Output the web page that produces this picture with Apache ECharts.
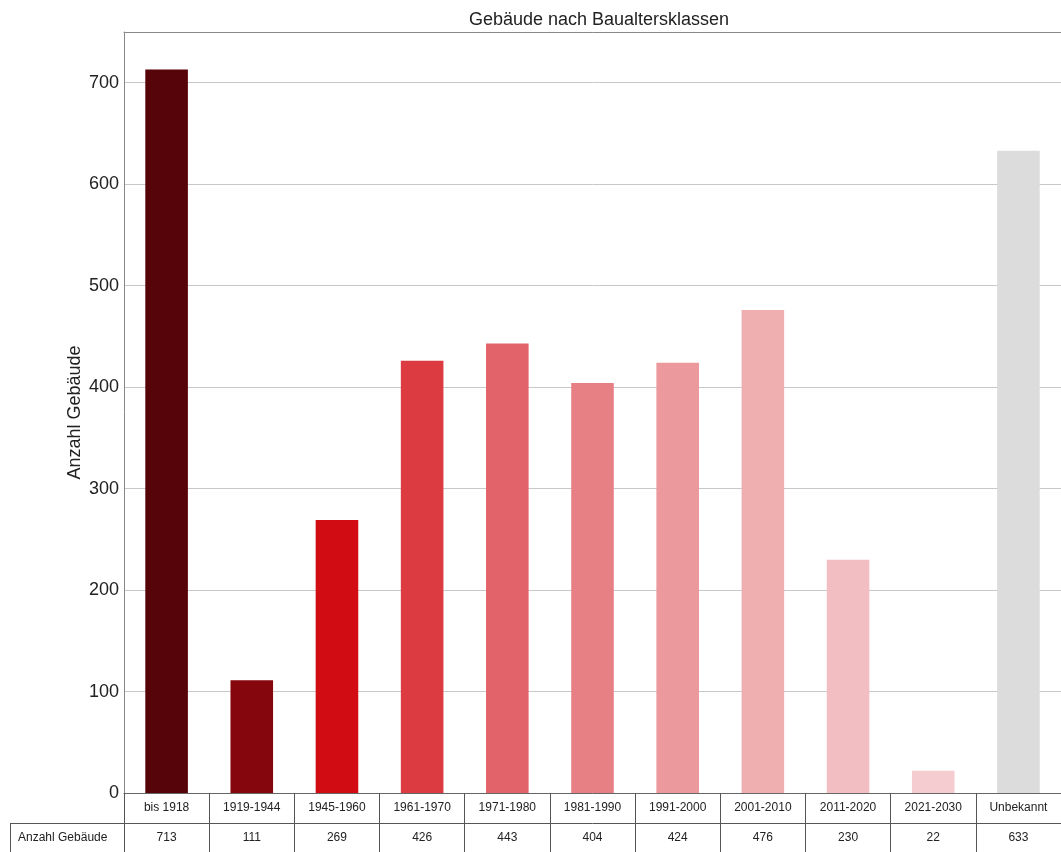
<!DOCTYPE html>
<html>
<head>
<meta charset="utf-8">
<title>Gebäude nach Baualtersklassen</title>
<script src="https://cdn.jsdelivr.net/npm/echarts@6/dist/echarts.min.js"></script>
<style>
    html, body { margin: 0; padding: 0; background: #fff; }
    #chart { width: 1061px; height: 852px; }
</style>
</head>
<body>
<div id="chart"></div>
<script>
// Baualtersklassen (Kategorien)
var categories = ['bis 1918', '1919-1944', '1945-1960', '1961-1970', '1971-1980', '1981-1990',
    '1991-2000', '2001-2010', '2011-2020', '2021-2030', 'Unbekannt'];
// Anzahl Gebäude je Klasse
var counts = [713, 111, 269, 426, 443, 404, 424, 476, 230, 22, 633];
// Farbe je Balken
var barColors = ['#560309', '#85060c', '#d10c13', '#dc3b41', '#e2636a', '#e78084',
    '#eb999c', '#efafb1', '#f3bec1', '#f5cccf', '#dcdcdc'];
var yTicks = [0, 100, 200, 300, 400, 500, 600, 700];

var chart = echarts.init(document.getElementById('chart'));

var font = 'Liberation Sans, Arial, sans-serif';

var option = {
    backgroundColor: '#fff',
    animation: false,
    title: {
        text: 'Gebäude nach Baualtersklassen',
        left: 594,
        textAlign: 'center',
        top: 6,
        textStyle: { fontFamily: font, fontSize: 18, fontWeight: 'normal', color: '#222' }
    },
    grid: {
        left: 124, right: 0, top: 32, bottom: 59,
        containLabel: false
    },
    xAxis: [{
        type: 'category',
        data: categories,
        position: 'bottom',
        axisLine: { lineStyle: { color: '#666', width: 1 } },
        axisTick: { show: true, length: 30, inside: false, lineStyle: { color: '#555' } },
        axisLabel: { fontFamily: font, fontSize: 12, color: '#222', margin: 9, interval: 0 }
    }, {
        type: 'category',
        data: counts.map(String),
        position: 'bottom',
        offset: 30,
        axisLine: { lineStyle: { color: '#555', width: 1 } },
        axisTick: { show: true, length: 30, lineStyle: { color: '#555' } },
        axisLabel: { fontFamily: font, fontSize: 12, color: '#222', margin: 9, interval: 0 }
    }, {
        // obere Rahmenlinie
        type: 'category',
        data: categories,
        position: 'top',
        axisLine: { lineStyle: { color: '#888', width: 1 } },
        axisTick: { show: false },
        axisLabel: { show: false }
    }],
    yAxis: {
        type: 'value',
        min: 0, max: 750, interval: 100,
        name: 'Anzahl Gebäude',
        nameLocation: 'middle',
        nameGap: 40,
        nameMoveOverlap: false,
        nameTextStyle: { fontFamily: font, fontSize: 18, color: '#222' },
        axisLine: { show: true, lineStyle: { color: '#888' } },
        axisTick: { show: false },
        axisLabel: {
            fontFamily: font, fontSize: 18, color: '#222', margin: 5,
            formatter: function (v) { return yTicks.indexOf(v) >= 0 ? v : ''; }
        },
        splitLine: { lineStyle: { color: '#c8c8c8' } }
    },
    graphic: [{
        type: 'line',
        shape: { x1: 10, y1: 823.5, x2: 124, y2: 823.5 },
        style: { stroke: '#555', lineWidth: 1 }
    }, {
        type: 'line',
        shape: { x1: 10.5, y1: 823.5, x2: 10.5, y2: 852 },
        style: { stroke: '#555', lineWidth: 1 }
    }, {
        type: 'text',
        left: 18, top: 832,
        style: { text: 'Anzahl Gebäude', fontFamily: font, fontSize: 12, fill: '#222' }
    }],
    series: [{
        name: 'Anzahl Gebäude',
        type: 'bar',
        barWidth: '50%',
        data: counts.map(function (v, i) {
            return { value: v, itemStyle: { color: barColors[i] } };
        })
    }]
};

chart.setOption(option);
</script>
</body>
</html>
